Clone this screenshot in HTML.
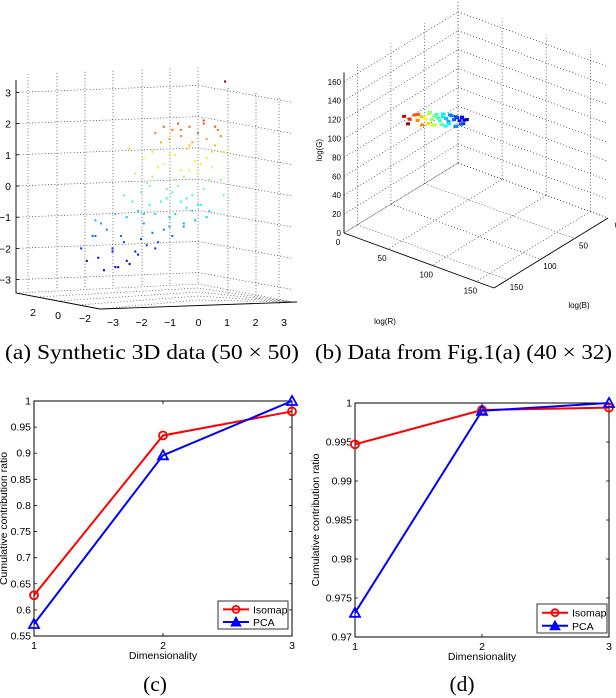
<!DOCTYPE html>
<html><head><meta charset="utf-8">
<style>
body{margin:0;background:#fff;}
svg{display:block;}
text{font-family:"Liberation Sans",Arial,sans-serif;fill:#000;}
.cap{font-family:"Liberation Serif","Times New Roman",serif;font-size:21.5px;}
</style></head>
<body>
<svg id="fig" width="616" height="698" viewBox="0 0 616 698">
<g id="pa"></g>
<g id="pb"></g>
<g id="pc"></g>
<g id="pd"></g>
<text class="cap" x="5" y="359" textLength="294" lengthAdjust="spacingAndGlyphs">(a)  Synthetic 3D data (50 × 50)</text>
<text class="cap" x="315" y="359" textLength="297" lengthAdjust="spacingAndGlyphs">(b)  Data from Fig.1(a) (40 × 32)</text>
<text class="cap" x="155" y="691" text-anchor="middle">(c)</text>
<text class="cap" x="462" y="691" text-anchor="middle">(d)</text>
</svg>
<script>
// ---------- data ----------
const dims = [1, 2, 3];
const isomapC = [0.628, 0.934, 0.980];
const pcaC = [0.573, 0.896, 1.000];
const ticksC = [0.55, 0.6, 0.65, 0.7, 0.75, 0.8, 0.85, 0.9, 0.95, 1];
const isomapD = [0.9947, 0.9991, 0.9994];
const pcaD = [0.9731, 0.9990, 1.0000];
const ticksD = [0.97, 0.975, 0.98, 0.985, 0.99, 0.995, 1];
// panel a scatter: horizontal position (x-axis units) and height z
const synthU = [-4.1,-3.9,-3.7,-3.5,-3.3,-3.6,-3.0,-2.8,-3.2,-2.6,-2.4,-2.9,-2.2,-2.7,-2.0,-3.4,-2.5,-1.8,-1.6,-2.1,-1.4,-2.3,-1.9,-1.2,-1.7,-1.0,-2.6,-1.5,-0.8,-2.0,-1.3,-0.6,-1.8,-1.1,-0.4,-2.2,-0.9,-0.2,-1.6,-0.7,0.0,-1.4,-0.5,0.2,-1.9,-1.2,-0.3,0.4,-1.0,-0.1,-2.4,-1.6,-0.8,0.1,-1.3,-0.4,0.5,-1.0,-0.2,0.6,-1.5,-0.6,0.3,-0.9,0.0,0.8,-1.2,-0.3,0.7,-0.7,0.2,-1.7,-0.5,0.4,-1.0,-0.1,0.9,-0.8,0.0,-0.4,0.3,-0.6,0.5,-1.1,-0.2,0.8,-0.9,0.1,-0.3,-0.6,0.6,0.2,-3.0,-2.5,-1.5,-0.5,0.3,-3.6,-1.9,0.9,-2.9,-2.1];
const synthZ = [-2.0,-2.4,-1.6,-2.3,-2.7,-1.1,-2.0,-2.6,-1.4,-1.8,-2.5,-0.9,-2.1,-1.6,-1.7,-1.2,-1.0,-1.9,-1.5,-0.8,-1.8,-0.5,-1.2,-1.4,-0.6,-1.0,-0.3,-0.9,-0.9,-0.2,-0.5,-0.5,0.1,-0.4,-0.7,0.4,-0.2,-0.3,0.3,0.0,-0.6,0.6,0.3,-0.1,0.9,0.7,0.5,0.2,1.0,0.8,1.2,1.1,1.0,0.7,1.4,1.2,1.1,1.5,1.4,1.3,1.7,1.6,1.5,1.8,1.7,1.6,1.9,1.9,1.8,2.0,2.0,0.0,-1.2,-0.8,-1.3,-1.1,-0.3,0.2,0.4,-0.4,0.9,0.5,0.6,-0.1,-0.8,0.2,-1.6,-0.6,1.3,1.8,1.9,2.1,-2.1,-2.4,-2.0,-1.3,-1.0,-1.6,-0.9,1.1,-2.6,-2.2];
// panel b scatter: log(R), log(B), log(G) values
const colR = [40,44,48,50,53,56,58,60,62,64,66,68,70,72,74,76,78,80,82,84,85,55,60,65,70,75,80,84,58,63,68,73,78,83,46,52,86,62,72,80];
const colB = [133,130,128,126,124,122,120,118,117,115,114,112,110,109,107,106,104,103,102,101,104,126,123,120,116,112,109,106,118,115,112,108,106,103,135,128,100,119,113,108];
const colG = [121,118,123,117,121,119,124,118,122,120,117,121,119,116,122,118,120,117,121,118,116,114,116,115,115,116,114,116,125,123,124,123,122,121,116,125,119,113,113,113];

const NS = 'http://www.w3.org/2000/svg';
function mk(parent, tag, attrs) {
  const e = document.createElementNS(NS, tag);
  for (const k in attrs) e.setAttribute(k, attrs[k]);
  parent.appendChild(e);
  return e;
}
function jet(t) {
  t = Math.max(0, Math.min(1, t));
  const r = Math.max(0, Math.min(1, 1.5 - Math.abs(4 * t - 3)));
  const g = Math.max(0, Math.min(1, 1.5 - Math.abs(4 * t - 2)));
  const b = Math.max(0, Math.min(1, 1.5 - Math.abs(4 * t - 1)));
  return `rgb(${Math.round(r * 255)},${Math.round(g * 255)},${Math.round(b * 255)})`;
}
const DOT = '1,2.2';

// ---------- line charts ----------
function lineChart(g, box, ticks, yMin, yMax, isoVals, pcaVals, tickFmt, legendBox, titleX) {
  const xS = d => box.x0 + (d - 1) / 2 * (box.x1 - box.x0);
  const yS = v => box.y1 - (v - yMin) / (yMax - yMin) * (box.y1 - box.y0);
  const frame = mk(g, 'rect', {x: box.x0, y: box.y0, width: box.x1 - box.x0, height: box.y1 - box.y0, fill: 'none', stroke: '#000', 'stroke-width': 1});
  
  
  ticks.forEach((t, i) => {
    const y = yS(t);
    const tk = mk(g, 'path', {d: `M${box.x0},${y}h3M${box.x1},${y}h-3`, stroke: '#000', 'stroke-width': 0.8});
    
    
    const lb = mk(g, 'text', {x: box.x0 - 3, y: y + 3.5, 'font-size': 10.5, 'text-anchor': 'end'});
    lb.textContent = tickFmt[i];
    
    
  });
  dims.forEach(d => {
    const x = xS(d);
    const tk = mk(g, 'path', {d: `M${x},${box.y1}v-3M${x},${box.y0}v3`, stroke: '#000', 'stroke-width': 0.8});
    
    
    const lb = mk(g, 'text', {x: x, y: box.y1 + 13, 'font-size': 10.5, 'text-anchor': 'middle'});
    lb.textContent = d;
    
    
  });
  const xt = mk(g, 'text', {x: (box.x0 + box.x1) / 2, y: box.y1 + 23, 'font-size': 10.5, 'text-anchor': 'middle'});
  xt.textContent = 'Dimensionality';
  
  
  const cy = (box.y0 + box.y1) / 2;
  const yt = mk(g, 'text', {x: titleX, y: cy, 'font-size': 10.5, 'text-anchor': 'middle', transform: `rotate(-90 ${titleX} ${cy})`});
  yt.textContent = 'Cumulative contribution ratio';
  
  

  const isoLine = mk(g, 'polyline', {points: dims.map((d, i) => `${xS(d)},${yS(isoVals[i])}`).join(' '), fill: 'none', stroke: '#ff0000', 'stroke-width': 2});
  
  
  dims.forEach((d, i) => {
    const c = mk(g, 'circle', {cx: xS(d), cy: yS(isoVals[i]), r: 4, fill: 'none', stroke: '#ff0000', 'stroke-width': 1.8});
    
    
  });
  const pcaLine = mk(g, 'polyline', {points: dims.map((d, i) => `${xS(d)},${yS(pcaVals[i])}`).join(' '), fill: 'none', stroke: '#0000ff', 'stroke-width': 2});
  
  
  dims.forEach((d, i) => {
    const x = xS(d), y = yS(pcaVals[i]);
    const t = mk(g, 'polygon', {points: `${x},${y - 5} ${x - 5},${y + 4} ${x + 5},${y + 4}`, fill: 'none', stroke: '#0000ff', 'stroke-width': 1.8});
    
    
  });
  const L = legendBox;
  const lg = mk(g, 'g', {});
  
  
  mk(lg, 'rect', {x: L.x, y: L.y, width: L.w, height: L.h, fill: '#fff', stroke: '#000', 'stroke-width': 0.8});
  const r1 = L.y + L.h * 0.3, r2 = L.y + L.h * 0.75;
  const e1 = mk(lg, 'g', {});
  
  
  mk(e1, 'line', {x1: L.x + 5, x2: L.x + 31, y1: r1, y2: r1, stroke: '#ff0000', 'stroke-width': 2});
  mk(e1, 'circle', {cx: L.x + 18, cy: r1, r: 3.5, fill: 'none', stroke: '#ff0000', 'stroke-width': 1.8});
  const t1 = mk(e1, 'text', {x: L.x + 35, y: r1 + 4, 'font-size': 10.5});
  t1.textContent = 'Isomap';
  const e2 = mk(lg, 'g', {});
  
  
  mk(e2, 'line', {x1: L.x + 5, x2: L.x + 31, y1: r2, y2: r2, stroke: '#0000ff', 'stroke-width': 2});
  mk(e2, 'polygon', {points: `${L.x + 18},${r2 - 5} ${L.x + 13},${r2 + 4} ${L.x + 23},${r2 + 4}`, fill: '#0000ff', stroke: '#0000ff'});
  const t2 = mk(e2, 'text', {x: L.x + 35, y: r2 + 4, 'font-size': 10.5});
  t2.textContent = 'PCA';
}
lineChart(document.getElementById('pc'), {x0: 34, x1: 292, y0: 401, y1: 636}, ticksC, 0.55, 1.0, isomapC, pcaC,
  ['0.55','0.6','0.65','0.7','0.75','0.8','0.85','0.9','0.95','1'], {x: 218, y: 601, w: 70, h: 28}, 7);
lineChart(document.getElementById('pd'), {x0: 355, x1: 609, y0: 403, y1: 637}, ticksD, 0.97, 1.0, isomapD, pcaD,
  ['0.97','0.975','0.98','0.985','0.99','0.995','1'], {x: 537, y: 604, w: 70, h: 29}, 319);

// ---------- panel a (3D synthetic) ----------
(function () {
  const g = document.getElementById('pa');
  const zY = z => 186 - z * 31.2;
  const uX = u => 198 + u * 28.5;
  const ax = mk(g, 'path', {d: 'M16,80V293L100,309L297,302', fill: 'none', stroke: '#000', 'stroke-width': 0.9});
  
  
  const zt = [-3, -2, -1, 0, 1, 2, 3];
  zt.forEach(z => {
    const y = zY(z);
    const gl = mk(g, 'path', {d: `M16,${y}L198,${y - 7}L293,${y + 10}`, fill: 'none', stroke: '#333', 'stroke-width': 0.7, 'stroke-dasharray': DOT});
    
    
    const tk = mk(g, 'line', {x1: 16, x2: 19, y1: y, y2: y, stroke: '#000', 'stroke-width': 0.8});
    
    
    const lb = mk(g, 'text', {x: 11, y: y + 4, 'font-size': 10.5, 'text-anchor': 'end'});
    lb.textContent = z < 0 ? '\u2212' + (-z) : z;
    
    
  });
  [28, 57, 85, 113, 142, 170, 198].forEach((x, i) => {
    const top = 80 - i * 1.1, bot = 291 - i * 1.1;
    const v = mk(g, 'line', {x1: x, x2: x, y1: top - 6, y2: bot, stroke: '#333', 'stroke-width': 0.7, 'stroke-dasharray': DOT});
    
    
  });
  [228, 256, 279].forEach((x, i) => {
    const v = mk(g, 'line', {x1: x, x2: x, y1: 88 + i * 5, y2: 296 + i * 4, stroke: '#333', 'stroke-width': 0.7, 'stroke-dasharray': DOT});
    
    
  });
  [0, 1, 2, 3, 4].forEach(k => {
    const f = mk(g, 'path', {d: `M${16 + k * 21},${293 + k * 4}L198,${284 + k * 4}L293,302`, fill: 'none', stroke: '#333', 'stroke-width': 0.6, 'stroke-dasharray': DOT});
    
    
  });
  [-3, -2, -1, 0, 1, 2, 3].forEach(u => {
    const lb = mk(g, 'text', {x: 113 + (u + 3) * 28.5, y: 326, 'font-size': 10.5, 'text-anchor': 'middle'});
    lb.textContent = u < 0 ? '\u2212' + (-u) : u;
    
    
  });
  [[2, 33, 316], [0, 58, 319], [-2, 85, 322]].forEach(a => {
    const lb = mk(g, 'text', {x: a[1], y: a[2], 'font-size': 10.5, 'text-anchor': 'middle'});
    lb.textContent = a[0] < 0 ? '\u2212' + (-a[0]) : a[0];
    
    
  });
  synthU.forEach((u, i) => {
    const z = synthZ[i];
    const p = mk(g, 'rect', {x: uX(u) - 1, y: zY(z) - 1, width: 2, height: 2, fill: jet((z + 3) / 6.2)});
    
    
  });
  const top = mk(g, 'rect', {x: uX(0.95) - 1, y: zY(3.35) - 1, width: 2, height: 2, fill: '#800000'});
  
  
})();

// ---------- panel b (3D RGB data) ----------
(function () {
  const g = document.getElementById('pb');
  const B0 = [458, 163];
  const P = (R, B, G) => [B0[0] + R * 150 / 170 - B * 114 / 170, B0[1] + R * 55 / 170 + B * 70 / 170 - G * 0.945];
  const line = (a, b, dash, name, w) => {
    const l = mk(g, 'line', {x1: a[0], y1: a[1], x2: b[0], y2: b[1], stroke: dash ? '#333' : '#000', 'stroke-width': w || 0.7});
    if (dash) l.setAttribute('stroke-dasharray', DOT);
    
    
  };
  const M = 170;
  const gt = [0, 20, 40, 60, 80, 100, 120, 140, 160];
  gt.forEach(G => {
    line(P(0, M, G), P(0, 0, G), true, 'g-grid-line');
    line(P(0, 0, G), P(M, 0, G), true, 'g-grid-line');
    const p = P(0, M, G);
    const lb = mk(g, 'text', {x: p[0] - 3, y: p[1] + 3, 'font-size': 8, 'text-anchor': 'end'});
    lb.textContent = G;
    
    
  });
  [0, 50, 100, 150].forEach(v => {
    line(P(v, 0, 0), P(v, 0, M), true, 'r-grid-vertical');
    line(P(0, v, 0), P(0, v, M), true, 'b-grid-vertical');
    line(P(v, 0, 0), P(v, M, 0), true, 'floor-grid-line');
    line(P(0, v, 0), P(M, v, 0), true, 'floor-grid-line');
    const pr = P(v, M, 0);
    const lr = mk(g, 'text', {x: pr[0] - 6, y: pr[1] + 12, 'font-size': 8, 'text-anchor': 'middle'});
    lr.textContent = v;
    
    
    const pb = P(M, v, 0);
    const lbb = mk(g, 'text', {x: pb[0] + 9, y: pb[1] + 10, 'font-size': 8, 'text-anchor': 'middle'});
    lbb.textContent = v;
    
    
  });
  line(P(0, M, 0), P(0, M, M), false, 'g-axis', 0.9);
  line(P(0, M, 0), P(M, M, 0), false, 'r-axis', 0.9);
  line(P(M, M, 0), P(M, 0, 0), false, 'b-axis', 0.9);
  const lR = mk(g, 'text', {x: 385, y: 324, 'font-size': 8, 'text-anchor': 'middle'});
  lR.textContent = 'log(R)';
  
  
  const lB = mk(g, 'text', {x: 579, y: 308, 'font-size': 8, 'text-anchor': 'middle'});
  lB.textContent = 'log(B)';
  
  
  const lG = mk(g, 'text', {x: 322, y: 150, 'font-size': 8, 'text-anchor': 'middle', transform: 'rotate(-90 322 150)'});
  lG.textContent = 'log(G)';
  
  
  colR.forEach((R, i) => {
    const p = P(R, colB[i], colG[i]);
    const t = (colB[i] - 98) / 38;
    const d = mk(g, 'rect', {x: p[0] - 2, y: p[1] - 1.5, width: 4, height: 3, fill: jet(t)});
    
    
  });
})();
</script>
</body></html>
